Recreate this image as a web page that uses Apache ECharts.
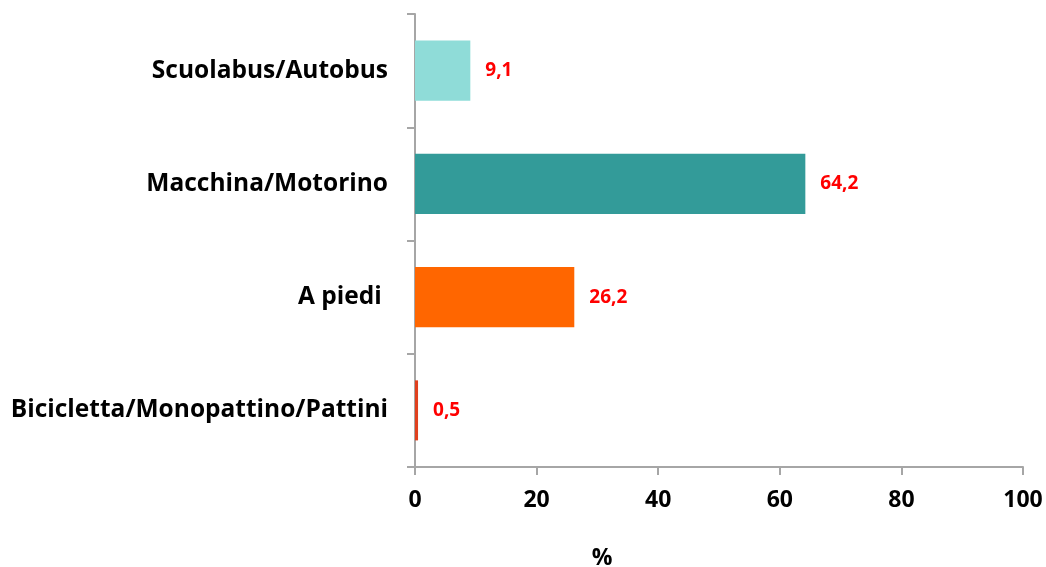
<!DOCTYPE html>
<html>
<head>
<meta charset="utf-8">
<script src="https://cdn.jsdelivr.net/npm/echarts@6/dist/echarts.min.js"></script>
<style>
  html, body { margin: 0; padding: 0; background: #fff; }
  #chart { width: 1046px; height: 567px; }
</style>
</head>
<body>
<div id="chart"></div>
<script>
// dati (dal basso verso l'alto)
var categorie = ['Bicicletta/Monopattino/Pattini', 'A piedi ', 'Macchina/Motorino', 'Scuolabus/Autobus'];
var valori = [0.5, 26.2, 64.2, 9.1];
var colori = ['#E0401E', '#FF6600', '#339B99', '#8FDCD8'];
var tickX = [0, 20, 40, 60, 80, 100];

var chart = echarts.init(document.getElementById('chart'));
var font = '"Open Sans", Lato, sans-serif';
var assiColore = '#A6A6A6';

chart.setOption({
    animation: false,
    grid: { left: 415, right: 23, top: 14, bottom: 100, containLabel: false, outerBoundsMode: 'none' },
    xAxis: {
        type: 'value',
        min: tickX[0],
        max: tickX[tickX.length - 1],
        interval: 20,
        name: '%',
        nameLocation: 'middle',
        nameGap: 80,
        nameTextStyle: { fontFamily: font, fontWeight: 'bold', fontSize: 23, color: '#000', padding: [0, 0, 0, -234] },
        axisLine: { show: true, lineStyle: { color: assiColore, width: 2 } },
        axisTick: { show: true, length: 8, lineStyle: { color: assiColore, width: 2 } },
        axisLabel: { margin: 22, fontFamily: font, fontWeight: 'bold', fontSize: 23, color: '#000' },
        splitLine: { show: false }
    },
    yAxis: {
        type: 'category',
        data: categorie,
        axisLine: { show: true, lineStyle: { color: assiColore, width: 2 } },
        axisTick: { show: true, length: 8, lineStyle: { color: assiColore, width: 2 } },
        axisLabel: { margin: 27, fontFamily: font, fontWeight: 'bold', fontSize: 24.5, color: '#000' }
    },
    series: [{
        type: 'bar',
        barCategoryGap: '47%',
        data: valori.map(function (v, i) {
            return { value: v, itemStyle: { color: colori[i] } };
        }),
        label: {
            show: true,
            position: 'right',
            distance: 15,
            fontFamily: font,
            fontWeight: 'bold',
            fontSize: 19,
            color: '#FF0000',
            formatter: function (p) { return String(p.value.toFixed(1)).replace('.', ','); }
        }
    }]
});
</script>
</body>
</html>
